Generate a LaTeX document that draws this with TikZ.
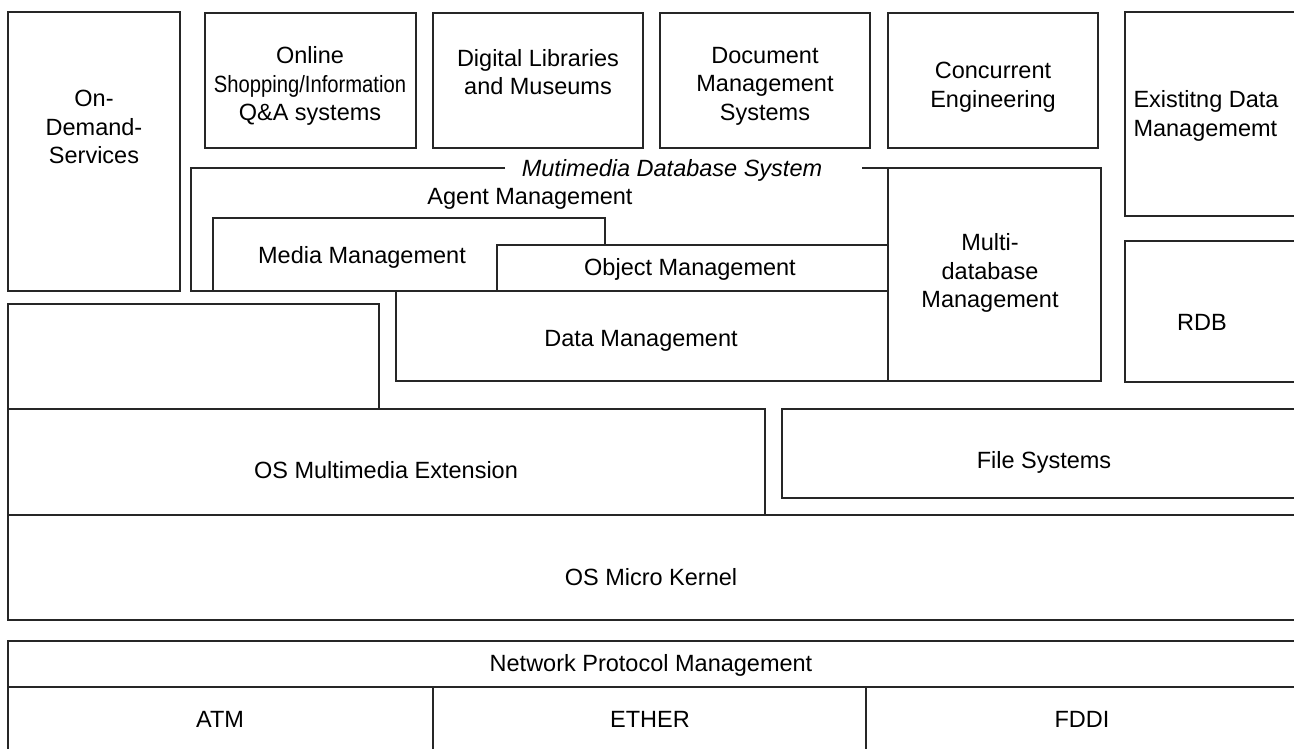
\documentclass[tikz,border=0pt]{standalone}
\usepackage{fontspec}
\setmainfont{Liberation Sans}
\begin{document}
\begin{tikzpicture}[x=1pt,y=-1pt,
  box/.style={draw=black!85,line width=1.1pt},
  lbl/.style={inner sep=0pt,align=center,font=\fontsize{23.5}{28.5}\selectfont}]
\useasboundingbox (0,0) rectangle (1294,749);
\clip (0,0) rectangle (1294,749);
\fill[white] (0,0) rectangle (1294,749);
% left column
\draw[box] (8,12) rectangle (180,291);
\node[lbl] (ods) at (94,127) {On-\\Demand-\\Services};
% top applications
\draw[box] (205,13) rectangle (416,148);
\node[lbl] (online) at (310,86) {Online\\\scalebox{0.86}[1]{Shopping/Information}\\Q\&A systems};
\draw[box] (433,13) rectangle (643,148);
\node[lbl] (digital) at (538,72) {Digital Libraries\\and Museums};
\draw[box] (660,13) rectangle (870,148);
\node[lbl] (docmgmt) at (765,86) {Document\\Management\\Systems};
\draw[box] (888,13) rectangle (1098,148);
\node[lbl] (concur) at (993,87) {Concurrent\\Engineering};
% right column
\draw[box] (1125,12) rectangle (1310,216);
\node[lbl,align=left] (existing) at (1206,116) {Existitng Data\\Managememt};
\draw[box] (1125,241) rectangle (1310,382);
\node[lbl] (rdb) at (1202,322) {RDB};
% multimedia database system frame
\draw[box] (505,168) -- (191,168) -- (191,291) -- (888,291);
\draw[box] (862,168) -- (888,168);
\node[lbl,font=\fontsize{23.5}{28.5}\selectfont\itshape] (mmdbs) at (672,170) {Mutimedia Database System};
\node[lbl] (agent) at (530,199) {Agent Management};
\draw[box] (213,218) rectangle (605,291);
\node[lbl] (media) at (362,257) {Media Management};
\draw[box,fill=white] (497,245) rectangle (888,291);
\node[lbl] (object) at (690,269) {Object Management};
\draw[box] (396,291) rectangle (888,381);
\node[lbl] (data) at (641,341) {Data Management};
\draw[box] (888,168) rectangle (1101,381);
\node[lbl] (multidb) at (990,273) {Multi-\\database\\Management};
% empty box and OS layers
\draw[box] (8,304) rectangle (379,409);
\draw[box] (8,409) rectangle (765,515);
\node[lbl] (osext) at (386,470) {OS Multimedia Extension};
\draw[box] (782,409) rectangle (1310,498);
\node[lbl] (fs) at (1044,462) {File Systems};
\draw[box] (8,515) rectangle (1310,620);
\node[lbl] (kernel) at (651,577) {OS Micro Kernel};
% network
\draw[box] (8,641) rectangle (1310,687);
\node[lbl] (net) at (651,665) {Network Protocol Management};
\draw[box] (8,687) rectangle (433,760);
\draw[box] (433,687) rectangle (866,760);
\draw[box] (866,687) rectangle (1310,760);
\node[lbl] (atm) at (220,719) {ATM};
\node[lbl] (ether) at (650,719) {ETHER};
\node[lbl] (fddi) at (1082,719) {FDDI};
\end{tikzpicture}
\end{document}
